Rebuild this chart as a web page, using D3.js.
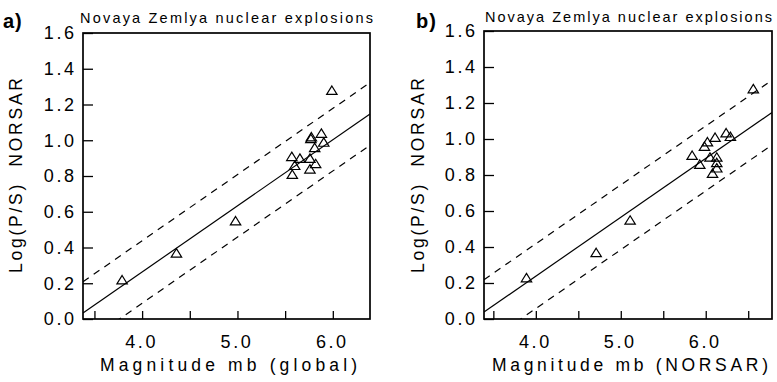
<!DOCTYPE html>
<html>
<head>
<meta charset="utf-8">
<script src="https://cdn.jsdelivr.net/npm/d3@7"></script>
<style>
  body { margin: 0; background: #fff; }
  text { font-family: "Liberation Sans", Arial, sans-serif; fill: #000; }
</style>
</head>
<body>
<script>
const width = 777;
const height = 382;

// data
const panelLabels = ["a)", "b)"];
const plotTitle = "Novaya Zemlya nuclear explosions";
const xTitles = ["Magnitude mb (global)", "Magnitude mb (NORSAR)"];
const yTitle = "Log(P/S)  NORSAR";

const mbGlobal = [3.79, 4.36, 4.98, 5.99, 5.775, 5.77, 5.88, 5.905, 5.81, 5.57, 5.655, 5.76, 5.60, 5.82, 5.76, 5.575];
const psGlobal = [0.22, 0.37, 0.55, 1.28, 1.02, 1.01, 1.04, 0.99, 0.96, 0.91, 0.90, 0.90, 0.86, 0.87, 0.84, 0.81];

const mbNorsar = [3.89, 4.71, 5.11, 6.56, 6.24, 6.29, 6.11, 6.02, 5.985, 5.84, 6.05, 6.13, 5.93, 6.13, 6.13, 6.08];
const psNorsar = [0.23, 0.37, 0.55, 1.28, 1.035, 1.015, 1.01, 0.985, 0.96, 0.91, 0.90, 0.90, 0.86, 0.87, 0.84, 0.81];

// regression lines: [intercept, slope] and the +/- band
const fitGlobal = [-1.217, 0.370];
const bandGlobal = 0.175;
const fitNorsar = [-1.070, 0.327];
const bandNorsar = 0.18;

const yTicks = [0, 0.2, 0.4, 0.6, 0.8, 1.0, 1.2, 1.4, 1.6];
const xTicksGlobal = [3.5, 4.0, 4.5, 5.0, 5.5, 6.0];
const xTicksNorsar = [3.5, 4.0, 4.5, 5.0, 5.5, 6.0, 6.5];

const svg = d3.select("body").append("svg")
	.attr("width", width)
	.attr("height", height);

const panels = [
	{ label: panelLabels[0], xTitle: xTitles[0], mb: mbGlobal, ps: psGlobal, fit: fitGlobal, band: bandGlobal,
	  xTicks: xTicksGlobal, xDomain: [3.38, 6.39], left: 83, right: 370, top: 33, bottom: 319,
	  labelX: 3, titleX: [80, 373], titleY: 23, yTitleX: 22, xTitleX: [100, 357] },
	{ label: panelLabels[1], xTitle: xTitles[1], mb: mbNorsar, ps: psNorsar, fit: fitNorsar, band: bandNorsar,
	  xTicks: xTicksNorsar, xDomain: [3.39, 6.78], left: 484, right: 772, top: 31, bottom: 319,
	  labelX: 416, titleX: [485, 772], titleY: 22, yTitleX: 424, xTitleX: [492, 768] }
];

// open triangle centred on its bounding box
function triangle(d) {
	const p = d3.path();
	p.moveTo(0, -4.2);
	p.lineTo(5.2, 4.2);
	p.lineTo(-5.2, 4.2);
	p.closePath();
	return p.toString();
}

panels.forEach(function (cfg, i) {
	const x = d3.scaleLinear().domain(cfg.xDomain).range([cfg.left, cfg.right]);
	const y = d3.scaleLinear().domain([0, 1.6]).range([cfg.bottom, cfg.top]);
	const g = svg.append("g");

	const clipId = "clip" + i;
	svg.append("clipPath").attr("id", clipId)
		.append("rect")
		.attr("x", cfg.left).attr("y", cfg.top)
		.attr("width", cfg.right - cfg.left).attr("height", cfg.bottom - cfg.top);

	// y axis, ticks pointing inward
	const yAxis = g.append("g")
		.attr("transform", "translate(" + cfg.left + ",0)")
		.call(d3.axisLeft(y).tickValues(yTicks).tickFormat(d3.format(".1f"))
			.tickSizeInner(-10).tickSizeOuter(0).tickPadding(9));
	yAxis.select(".domain").remove();
	yAxis.selectAll("line").attr("stroke-width", 1.3);
	yAxis.selectAll("text")
		.attr("font-size", 18).attr("letter-spacing", 2.6).attr("dx", 2.6)
		.attr("font-family", "Liberation Sans");

	// x axis, ticks pointing up
	const xAxis = g.append("g")
		.attr("transform", "translate(0," + cfg.bottom + ")")
		.call(d3.axisBottom(x).tickValues(cfg.xTicks)
			.tickFormat(function (d) { return d % 1 === 0 ? d3.format(".1f")(d) : ""; })
			.tickSizeInner(-8).tickSizeOuter(0).tickPadding(16));
	xAxis.select(".domain").remove();
	xAxis.selectAll("line").attr("stroke-width", 1.3);
	xAxis.selectAll("text")
		.attr("font-size", 18).attr("letter-spacing", 2.6).attr("dx", -1)
		.attr("font-family", "Liberation Sans");

	// regression line and band
	const lines = g.append("g").attr("clip-path", "url(#" + clipId + ")");
	[0, cfg.band, -cfg.band].forEach(function (off) {
		const f = function (m) { return cfg.fit[0] + cfg.fit[1] * m + off; };
		lines.append("line")
			.attr("x1", x(cfg.xDomain[0])).attr("y1", y(f(cfg.xDomain[0])))
			.attr("x2", x(cfg.xDomain[1])).attr("y2", y(f(cfg.xDomain[1])))
			.attr("stroke", "#000")
			.attr("stroke-width", 1.2)
			.attr("stroke-dasharray", off === 0 ? null : "7,6");
	});

	// points
	g.selectAll("path.pt")
		.data(cfg.mb.map(function (m, k) { return { mb: m, ps: cfg.ps[k] }; }))
		.enter()
		.append("path")
		.attr("class", "pt")
		.attr("d", triangle)
		.attr("transform", function (d) { return "translate(" + x(d.mb) + "," + y(d.ps) + ")"; })
		.attr("fill", "none")
		.attr("stroke", "#000")
		.attr("stroke-width", 1.2);

	// frame
	g.append("rect")
		.attr("x", cfg.left).attr("y", cfg.top)
		.attr("width", cfg.right - cfg.left).attr("height", cfg.bottom - cfg.top)
		.attr("fill", "none")
		.attr("stroke", "#000")
		.attr("stroke-width", 1.7);

	// texts
	g.append("text")
		.attr("x", cfg.labelX).attr("y", 28)
		.attr("font-size", 20).attr("font-weight", "bold")
		.attr("letter-spacing", 1)
		.text(cfg.label);

	g.append("text")
		.attr("x", cfg.titleX[0]).attr("y", cfg.titleY)
		.attr("font-size", 14.5)
		.attr("textLength", cfg.titleX[1] - cfg.titleX[0])
		.attr("lengthAdjust", "spacing")
		.text(plotTitle);

	g.append("text")
		.attr("x", cfg.xTitleX[0]).attr("y", 371)
		.attr("font-size", 17.5)
		.attr("textLength", cfg.xTitleX[1] - cfg.xTitleX[0])
		.attr("lengthAdjust", "spacing")
		.text(cfg.xTitle);

	g.append("text")
		.attr("transform", "translate(" + cfg.yTitleX + ",273) rotate(-90)")
		.attr("font-size", 17.5)
		.attr("textLength", 195)
		.attr("lengthAdjust", "spacing")
		.style("white-space", "pre")
		.text(yTitle);
});
</script>
</body>
</html>
